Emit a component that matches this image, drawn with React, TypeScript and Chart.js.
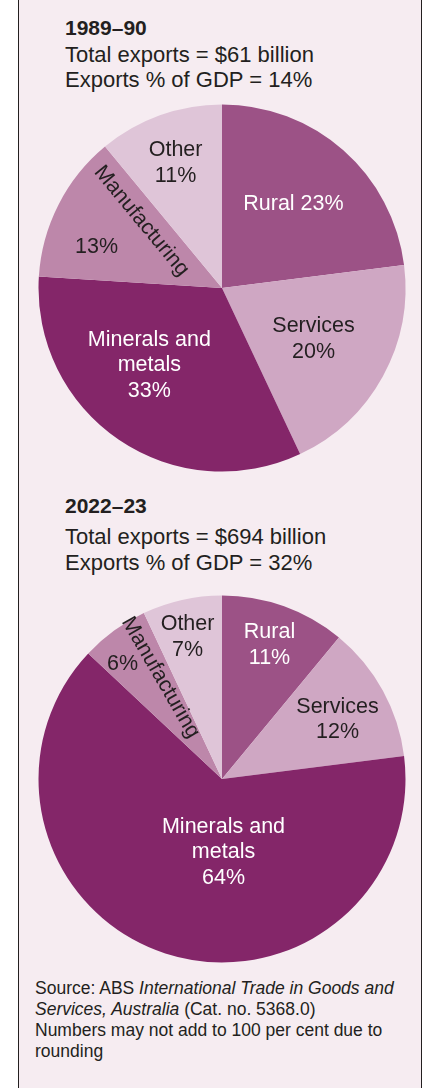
import React, { useEffect, useRef } from 'react';
import { Chart, registerables } from 'chart.js';

Chart.register(...registerables);

// ---------- data ----------
const categories = ['Rural', 'Services', 'Minerals and metals', 'Manufacturing', 'Other'];
const categoryLines = [['Rural'], ['Services'], ['Minerals and', 'metals'], ['Manufacturing'], ['Other']];
const shares1989 = [23, 20, 33, 13, 11];
const shares2022 = [11, 12, 64, 6, 7];
const periods = ['1989–90', '2022–23'];
const totalExportsBillion = [61, 694];
const exportsPctGdp = [14, 32];

// ---------- styles ----------
const FONT = '"Liberation Sans", Arial, Helvetica, sans-serif';
const TEXT_DARK = '#231f20';
const sliceColors = ['#9c5286', '#cfa7c3', '#842669', '#bd87aa', '#dfc5d8'];
const labelColors = ['#ffffff', TEXT_DARK, '#ffffff', TEXT_DARK, TEXT_DARK];
const PIE_R = 183.5;
const CANVAS = 380;
const LABEL_FS = 21.5;
const LABEL_LH = 25.5;

type Mode = 'inline' | 'stack' | 'valueOnly';
type Lay = { mode: Mode; dA: number; r: number; rotated?: { dA: number; r: number; rot: number } };

const layout1989: Lay[] = [
  { mode: 'inline', dA: -1.5, r: 0.607 },
  { mode: 'stack', dA: -0.6, r: 0.566 },
  { mode: 'stack', dA: 9.6, r: 0.572 },
  { mode: 'valueOnly', dA: -8.1, r: 0.723, rotated: { dA: 12.8, r: 0.571, rot: 50.5 } },
  { mode: 'stack', dA: -0.3, r: 0.736 },
];
const layout2022: Lay[] = [
  { mode: 'stack', dA: -0.5, r: 0.783 },
  { mode: 'stack', dA: 0.8, r: 0.713 },
  { mode: 'stack', dA: -19.2, r: 0.39 },
  { mode: 'valueOnly', dA: -4.5, r: 0.834, rotated: { dA: 4.8, r: 0.647, rot: 60 } },
  { mode: 'stack', dA: -0.9, r: 0.804 },
];

const deg = (d: number) => (d * Math.PI) / 180;

function makeLabelPlugin(lay: Lay[]) {
  return {
    id: 'sliceLabels',
    afterDatasetsDraw(chart: any) {
      const ctx: CanvasRenderingContext2D = chart.ctx;
      const meta = chart.getDatasetMeta(0);
      const values: number[] = chart.data.datasets[0].data;
      ctx.save();
      ctx.font = `${LABEL_FS}px ${FONT}`;
      ctx.textAlign = 'center';
      lay.forEach((l, i) => {
        const arc = meta.data[i];
        if (!arc) return;
        const p = arc.getProps(['x', 'y', 'startAngle', 'endAngle', 'outerRadius'], true);
        const mid = (p.startAngle + p.endAngle) / 2;
        const valueText = `${values[i]}%`;
        let lines: string[];
        if (l.mode === 'inline') lines = [`${categoryLines[i].join(' ')} ${valueText}`];
        else if (l.mode === 'stack') lines = [...categoryLines[i], valueText];
        else lines = [valueText];
        const a = mid + deg(l.dA);
        const cx = p.x + Math.cos(a) * l.r * p.outerRadius;
        const cy = p.y + Math.sin(a) * l.r * p.outerRadius;
        const n = lines.length;
        const y0 = cy - ((n - 1) * LABEL_LH - 0.716 * LABEL_FS) / 2;
        ctx.fillStyle = labelColors[i];
        ctx.textBaseline = 'alphabetic';
        lines.forEach((t, k) => ctx.fillText(t, cx, y0 + k * LABEL_LH));
        if (l.rotated) {
          const ra = mid + deg(l.rotated.dA);
          const rx = p.x + Math.cos(ra) * l.rotated.r * p.outerRadius;
          const ry = p.y + Math.sin(ra) * l.rotated.r * p.outerRadius;
          ctx.save();
          ctx.translate(rx, ry);
          ctx.rotate(deg(l.rotated.rot));
          ctx.textBaseline = 'middle';
          ctx.fillText(categoryLines[i].join(' '), 0, 0);
          ctx.restore();
        }
      });
      ctx.restore();
    },
  };
}

function PieChart({ values, lay, left, top }: { values: number[]; lay: Lay[]; left: number; top: number }) {
  const ref = useRef<HTMLCanvasElement | null>(null);
  useEffect(() => {
    if (!ref.current) return;
    const chart = new Chart(ref.current, {
      type: 'pie',
      data: {
        labels: categories,
        datasets: [
          {
            data: values,
            backgroundColor: sliceColors,
            borderWidth: 0,
            radius: PIE_R,
          } as any,
        ],
      },
      options: {
        animation: false,
        responsive: false,
        events: [],
        layout: { padding: 0 },
        plugins: { legend: { display: false }, tooltip: { enabled: false } },
      },
      plugins: [makeLabelPlugin(lay) as any],
    });
    return () => chart.destroy();
  }, [values, lay]);
  return (
    <canvas
      ref={ref}
      width={CANVAS}
      height={CANVAS}
      style={{ position: 'absolute', left, top, width: CANVAS, height: CANVAS }}
    />
  );
}

function Line({ top, left, size, bold, children }: any) {
  return (
    <div
      style={{
        position: 'absolute',
        left,
        top,
        fontSize: size,
        lineHeight: '26px',
        fontWeight: bold ? 700 : 400,
        whiteSpace: 'nowrap',
      }}
    >
      {children}
    </div>
  );
}

export default function App() {
  useEffect(() => {
    document.body.style.margin = '0';
  }, []);
  const cx = 221.5;
  const cy = [287.5, 778.5];
  const titleTops = [
    [14.7, 41.7, 67.1],
    [492.7, 524.4, 550.1],
  ];
  return (
    <div
      style={{
        position: 'absolute',
        left: 0,
        top: 0,
        width: 425,
        height: 1088,
        background: '#ffffff',
        fontFamily: FONT,
        color: TEXT_DARK,
        overflow: 'hidden',
      }}
    >
      <div
        style={{
          position: 'absolute',
          left: 18,
          top: 0,
          width: 402,
          height: 1088,
          background: '#f6ecf1',
          borderLeft: `1px solid ${TEXT_DARK}`,
          borderRight: `1px solid ${TEXT_DARK}`,
        }}
      />
      {[0, 1].map((k) => (
        <React.Fragment key={k}>
          <Line top={titleTops[k][0]} left={65} size={21} bold>
            {periods[k]}
          </Line>
          <Line top={titleTops[k][1]} left={65} size={22}>
            {`Total exports = $${totalExportsBillion[k]} billion`}
          </Line>
          <Line top={titleTops[k][2]} left={65} size={22}>
            {`Exports % of GDP = ${exportsPctGdp[k]}%`}
          </Line>
        </React.Fragment>
      ))}
      <PieChart values={shares1989} lay={layout1989} left={cx - CANVAS / 2} top={cy[0] - CANVAS / 2} />
      <PieChart values={shares2022} lay={layout2022} left={cx - CANVAS / 2} top={cy[1] - CANVAS / 2} />
      <div
        style={{
          position: 'absolute',
          left: 35,
          top: 978.4,
          fontSize: 17.5,
          lineHeight: '21px',
          whiteSpace: 'nowrap',
        }}
      >
        Source: ABS <i>International Trade in Goods and</i>
        <br />
        <i>Services, Australia</i> (Cat. no. 5368.0)
        <br />
        Numbers may not add to 100 per cent due to
        <br />
        rounding
      </div>
    </div>
  );
}
